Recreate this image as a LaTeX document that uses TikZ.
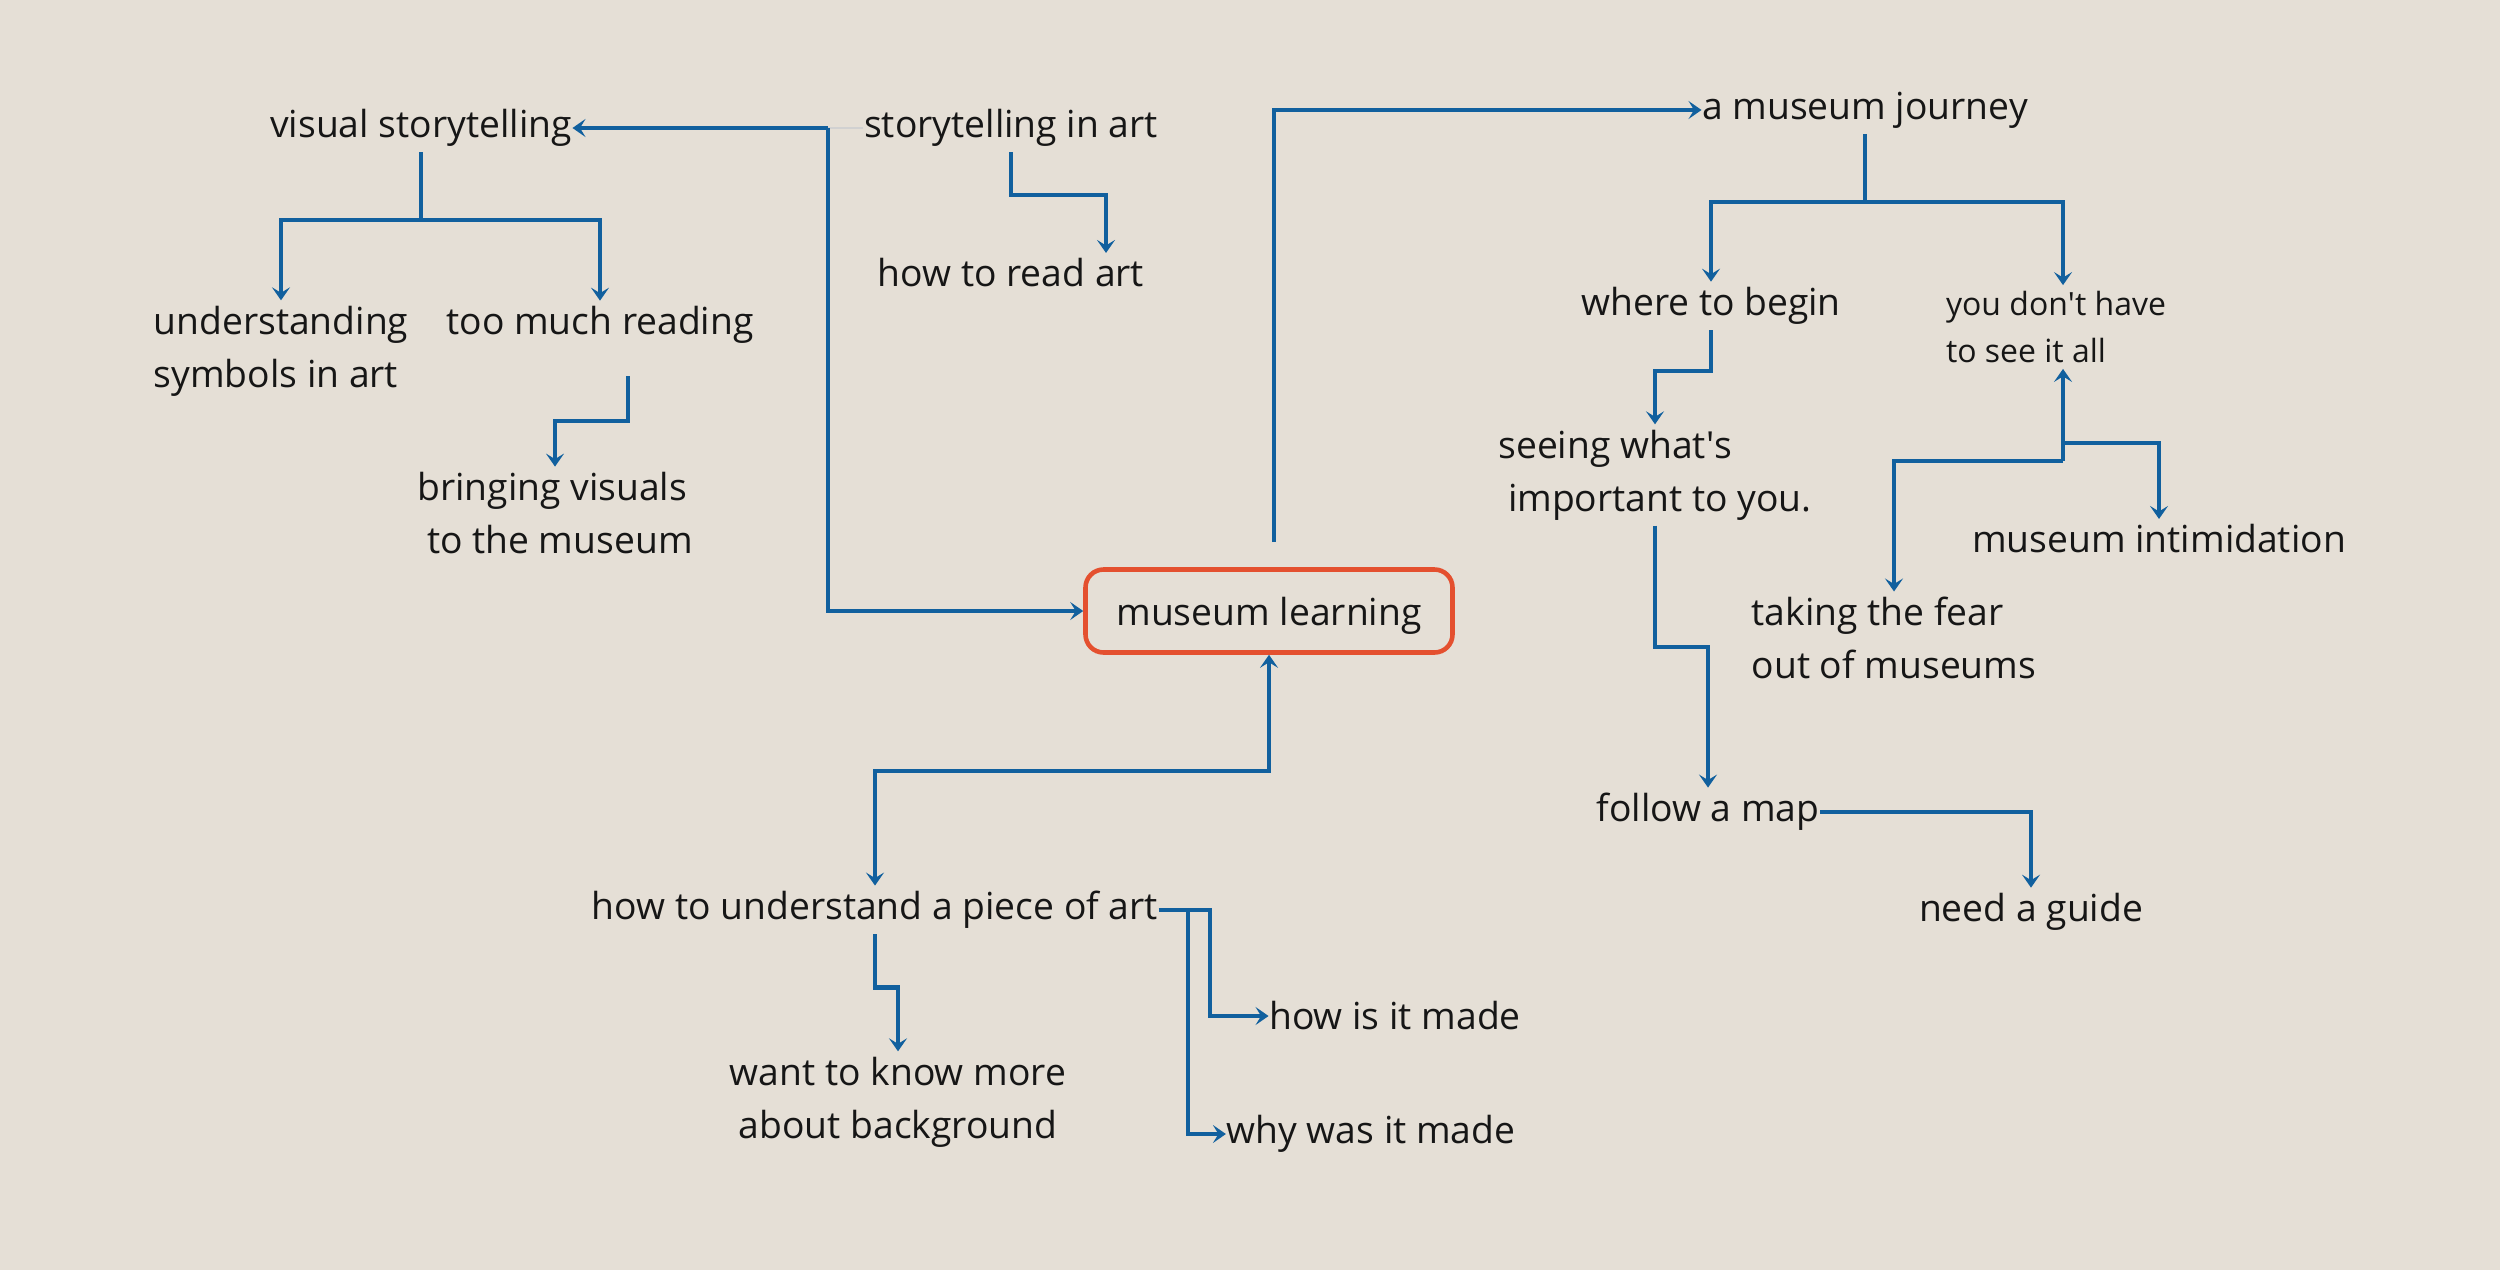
\documentclass[tikz,border=0pt]{standalone}
\usepackage{fontspec}
\setsansfont{Open Sans}
\usetikzlibrary{positioning,arrows.meta,calc}
\definecolor{paperBeige}{RGB}{229,223,214}
\definecolor{museumBlue}{RGB}{17,96,158}
\definecolor{boxRed}{RGB}{228,80,47}
\definecolor{inkBlack}{RGB}{22,22,22}
\tikzset{
	topic/.style={
		inner xsep=0pt,
		inner ysep=0.5mm,
		text=inkBlack,
	},
	smalltopic/.style={
		topic,
		font=\sffamily\fontsize{9.1}{13.6}\selectfont,
	},
	centralbox/.style={
		draw=boxRed,
		line width=1.3pt,
		rounded corners=1.8mm,
		minimum width=3.67cm,
		minimum height=0.83cm,
		text depth=0pt,
		text=inkBlack,
	},
	link/.style={
		-{Stealth[length=1.3mm,width=1.8mm,inset=0.55mm]},
		line width=1.2pt,
		draw=museumBlue,
	},
	twoway/.style={
		link,
		{Stealth[length=1.3mm,width=1.8mm,inset=0.55mm]}-{Stealth[length=1.3mm,width=1.8mm,inset=0.55mm]},
	},
	trunk/.style={
		line width=1.2pt,
		draw=museumBlue,
	},
	faint/.style={
		draw=black!18,
		line width=0.5pt,
	}
}

\begin{document}
\begin{tikzpicture}[
		every node/.style={font=\sffamily\fontsize{10.6}{15}\selectfont}
		]
		% --- page ---
		\fill[paperBeige] (0,0) rectangle (25,-12.7);
		
		% --- Left group ---
		\node[topic] (visual) at (4.21,-1.28) {visual storytelling};
		\node[topic] (artstory) at (10.11,-1.28) {storytelling in art};
		\node[topic] (readart) at (10.11,-2.73) {how to read art};
		\node[topic, align=left] (symbols) at (2.81,-3.51) {understanding\\symbols in art};
		\node[topic] (reading) at (6.00,-3.25) {too much reading};
		\node[topic, align=left] (bringing) at (5.55,-5.13) {bringing visuals\\\ to the museum};
		
		% --- Centre ---
		\node[centralbox] (learning) at (12.69,-6.11) {museum learning};
		
		% --- Right group ---
		\node[topic] (journey) at (18.65,-1.10) {a museum journey};
		\node[topic] (begin) at (17.11,-3.06) {where to begin};
		\node[smalltopic, align=left] (seeall) at (20.56,-3.27) {you don\textquotesingle t have\\to see it all};
		\node[topic, align=left] (seeing) at (16.55,-4.75) {seeing what\textquotesingle s\\\ important to you.};
		\node[topic] (intim) at (21.59,-5.39) {museum intimidation};
		\node[topic, align=left] (fear) at (18.94,-6.38) {taking the fear\\out of museums};
		\node[topic] (map) at (17.08,-8.12) {follow a map};
		\node[topic] (guide) at (20.31,-9.12) {need a guide};
		
		% --- Bottom group ---
		\node[topic] (understand) at (8.75,-9.10) {how to understand a piece of art};
		\node[topic, align=center] (background) at (8.98,-11.02) {want to know more\\about background};
		\node[topic] (howmade) at (13.95,-10.16) {how is it made};
		\node[topic] (whymade) at (13.71,-11.34) {why was it made};
		
		% --- Flows, left ---
		\coordinate (artsplit) at (8.28,-1.28);
		\draw[faint] (artstory.west) -- (artsplit);
		\draw[link] (artsplit) -- (visual.east);
		\draw[link] (artsplit) |- (learning.west);
		\draw[link] (artstory.south) -- ++(0,-0.43) -| ([xshift=9.5mm]readart.north);
		\coordinate (visualsplit) at (visual.south |- 0,-2.20);
		\draw[trunk] (visual.south) -- (visualsplit);
		\draw[link] (visualsplit) -| (symbols.north);
		\draw[link] (visualsplit) -| (reading.north);
		\draw[link] ([shift={(2.8mm,-2.7mm)}]reading.south) |- ($(bringing.north)+(0,0.46)$) -- (bringing.north);
		
		% --- Flows, centre ---
		\draw[link] ([shift={(0.5mm,2.5mm)}]learning.north) |- (journey.west);
		\draw[twoway] (understand.north) |- ($(learning.south)+(0,-1.16)$) -- (learning.south);
		
		% --- Flows, right ---
		\coordinate (journeysplit) at (journey.south |- 0,-2.02);
		\draw[trunk] (journey.south) -- (journeysplit);
		\draw[link] (journeysplit) -| (begin.north);
		\draw[link] (journeysplit) -| ([xshift=0.7mm]seeall.north);
		\draw[link] (begin.south) -- ++(0,-0.41) -| (seeing.north);
		\draw[link] (seeing.south) -- ++(0,-1.21) -| (map.north);
		\draw[link] (map.east) -| (guide.north);
		\coordinate (feartop) at (20.63,-4.43);
		\coordinate (fearsplit) at (20.63,-4.61);
		\draw[link] (fearsplit) -- (fearsplit |- seeall.south);
		\draw[link] (feartop) -| (intim.north);
		\draw[link] (fearsplit) -| (fear.north);
		
		% --- Flows, bottom ---
		\draw[link] (understand.south) -- ++(0,-0.53) -| (background.north);
		\draw[link] (understand.east) -- ++(0.51,0) |- (howmade.west);
		\draw[link] ([xshift=2.9mm]understand.east) |- (whymade.west);
	\end{tikzpicture}
\end{document}
